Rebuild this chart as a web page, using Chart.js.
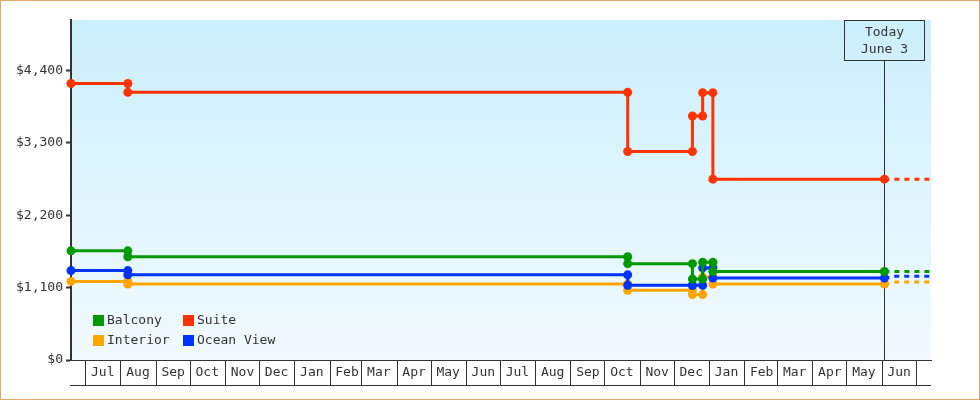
<!DOCTYPE html>
<html><head><meta charset="utf-8">
<script src="https://cdn.jsdelivr.net/npm/chart.js@4.4.0/dist/chart.umd.min.js"></script>
<style>html,body{margin:0;padding:0;background:#fff;}canvas{display:block;}</style>
</head><body>
<canvas id="c" width="980" height="400"></canvas>
<script>
// ---- data ----
const monthLabels = ['Jul','Aug','Sep','Oct','Nov','Dec','Jan','Feb','Mar','Apr','May','Jun',
                     'Jul','Aug','Sep','Oct','Nov','Dec','Jan','Feb','Mar','Apr','May','Jun'];
const firstMonthStart = '2014-07-01';
const axisStart = '2014-06-18';
const axisEnd = '2016-07-14';
const todayDate = '2016-06-03';
const todayText = ['Today', 'June 3'];
const changeDates = ['2014-06-18','2014-08-07','2015-10-21','2015-12-17','2015-12-26','2016-01-04'];
const balconyLevels  = [1660, 1570, 1465, 1230, 1485, 1345];
const oceanLevels    = [1360, 1295, 1135, 1135, 1400, 1245];
const interiorLevels = [1195, 1155, 1060,  995, 1260, 1155];
const suiteLevels    = [4205, 4070, 3170, 3710, 4065, 2750];
const projDates = ['2016-06-03','2016-06-13','2016-07-14'];
const balconyProj  = [1345, 1345, 1345];
const oceanProj    = [1245, 1275, 1275];
const interiorProj = [1155, 1185, 1185];
const suiteProj    = [2750, 2750, 2750];
const yTicks = [0, 1100, 2200, 3300, 4400];
const yMax = 5170;
const seriesNames = ['Balcony', 'Ocean View', 'Interior', 'Suite'];
const seriesColors = {'Balcony':'#009900', 'Ocean View':'#0033ff', 'Interior':'#ffa500', 'Suite':'#ff3300'};
const legendGrid = [['Balcony','Suite'], ['Interior','Ocean View']];

// ---- helpers ----
const base = Date.UTC(2014, 6, 1);
function day(s){ const [y,m,d] = s.split('-').map(Number); return (Date.UTC(y, m-1, d) - base) / 86400000; }
const [fy, fm] = firstMonthStart.split('-').map(Number);
const monthStartDays = [];
for (let i = 0; i <= monthLabels.length; i++) monthStartDays.push((Date.UTC(fy, fm-1+i, 1) - base) / 86400000);

function stepPoints(levels){
  const pts = [{x: day(changeDates[0]), y: levels[0]}];
  for (let i = 1; i < levels.length; i++) {
    pts.push({x: day(changeDates[i]), y: levels[i-1]});
    pts.push({x: day(changeDates[i]), y: levels[i]});
  }
  pts.push({x: day(todayDate), y: levels[levels.length-1]});
  return pts;
}
function projPoints(vals){ return projDates.map((d,i)=>({x: day(d), y: vals[i]})); }
const levelsBy = {'Balcony':balconyLevels, 'Ocean View':oceanLevels, 'Interior':interiorLevels, 'Suite':suiteLevels};
const projBy = {'Balcony':balconyProj, 'Ocean View':oceanProj, 'Interior':interiorProj, 'Suite':suiteProj};

const datasets = [];
seriesNames.forEach(n => datasets.push({
  label: n, data: stepPoints(levelsBy[n]), borderColor: seriesColors[n], backgroundColor: seriesColors[n],
  borderWidth: 3, pointRadius: 4.5, pointHoverRadius: 4.5, pointBorderWidth: 0, pointBackgroundColor: seriesColors[n],
  tension: 0, clip: false, fill: false
}));
seriesNames.forEach(n => datasets.push({
  label: n + ' (projected)', data: projPoints(projBy[n]), borderColor: seriesColors[n],
  borderWidth: 3, borderDash: [5,5], pointRadius: 0, tension: 0, clip: false, fill: false
}));

const FONT = {family: "'DejaVu Sans Mono', monospace", size: 13};
Chart.defaults.font = FONT;
Chart.defaults.color = '#333';

const decor = {
  id: 'decor',
  beforeDraw(chart){
    const {ctx, chartArea: a} = chart;
    ctx.save();
    ctx.fillStyle = '#fff'; ctx.fillRect(0, 0, chart.width, chart.height);
    const g = ctx.createLinearGradient(0, a.top, 0, a.bottom);
    g.addColorStop(0, '#cbeffc'); g.addColorStop(1, '#f2faff');
    ctx.fillStyle = g; ctx.fillRect(a.left, a.top, a.right - a.left, a.bottom - a.top);
    ctx.restore();
  },
  beforeDatasetsDraw(chart){
    const {ctx, chartArea: a, scales} = chart;
    const x = Math.round(scales.x.getPixelForValue(day(todayDate))) + 0.5;
    ctx.save();
    ctx.strokeStyle = '#333'; ctx.lineWidth = 1;
    ctx.beginPath(); ctx.moveTo(x, a.top + 40.5); ctx.lineTo(x, a.bottom); ctx.stroke();
    ctx.restore();
  },
  afterDraw(chart){
    const {ctx, chartArea: a, scales} = chart;
    ctx.save();
    // bottom line of the month boxes
    ctx.strokeStyle = '#333'; ctx.lineWidth = 1;
    ctx.beginPath(); ctx.moveTo(a.left - 1, a.bottom + 25.5); ctx.lineTo(a.right, a.bottom + 25.5); ctx.stroke();
    // today box
    const x = Math.round(scales.x.getPixelForValue(day(todayDate))) + 0.5;
    ctx.strokeRect(x - 40, a.top + 0.5, 80, 40);
    ctx.fillStyle = '#333';
    ctx.font = "13px 'DejaVu Sans Mono', monospace";
    ctx.textAlign = 'center'; ctx.textBaseline = 'middle';
    ctx.fillText(todayText[0], x, a.top + 12.5);
    ctx.fillText(todayText[1], x, a.top + 30);
    // legend
    ctx.textAlign = 'left';
    legendGrid.forEach((row, r) => row.forEach((name, c) => {
      const sx = a.left + 22 + c * 90, sy = a.bottom - 45 + r * 20;
      ctx.fillStyle = seriesColors[name]; ctx.fillRect(sx, sy, 11, 11);
      ctx.fillStyle = '#333'; ctx.fillText(name, sx + 14, sy + 6);
    }));
    // outer border
    ctx.strokeStyle = '#e6a865'; ctx.lineWidth = 1;
    ctx.strokeRect(0.5, 0.5, chart.width - 1, chart.height - 1);
    ctx.restore();
  }
};

new Chart(document.getElementById('c'), {
  type: 'line',
  data: {datasets},
  options: {
    responsive: false, animation: false, devicePixelRatio: 1,
    layout: {padding: {top: 20, right: 49, bottom: 0, left: 0}},
    plugins: {legend: {display: false}, tooltip: {enabled: false}},
    events: [],
    scales: {
      x: {
        type: 'linear', min: day(axisStart), max: day(axisEnd),
        afterBuildTicks: s => { s.ticks = monthStartDays.map(v => ({value: v})); },
        afterFit: s => { s.height = 40; },
        ticks: {callback: (v, i) => monthLabels[i] || '', autoSkip: false, maxRotation: 0, minRotation: 0,
                labelOffset: 17, padding: -20, color: '#333', font: FONT},
        grid: {drawOnChartArea: false, drawTicks: true, tickLength: 25, color: '#333', lineWidth: 1},
        border: {display: true, color: '#333', width: 1}
      },
      y: {
        type: 'linear', min: 0, max: yMax,
        afterBuildTicks: s => { s.ticks = yTicks.map(v => ({value: v})); },
        afterFit: s => { s.width = 71; },
        ticks: {callback: v => '$' + String(v).replace(/\B(?=(\d{3})+(?!\d))/g, ','), padding: 3, color: '#333', font: FONT},
        grid: {drawOnChartArea: false, drawTicks: true, tickLength: 5, tickWidth: 2, tickColor: '#333'},
        border: {display: true, color: '#333', width: 2}
      }
    }
  },
  plugins: [decor]
});
</script>
</body></html>
